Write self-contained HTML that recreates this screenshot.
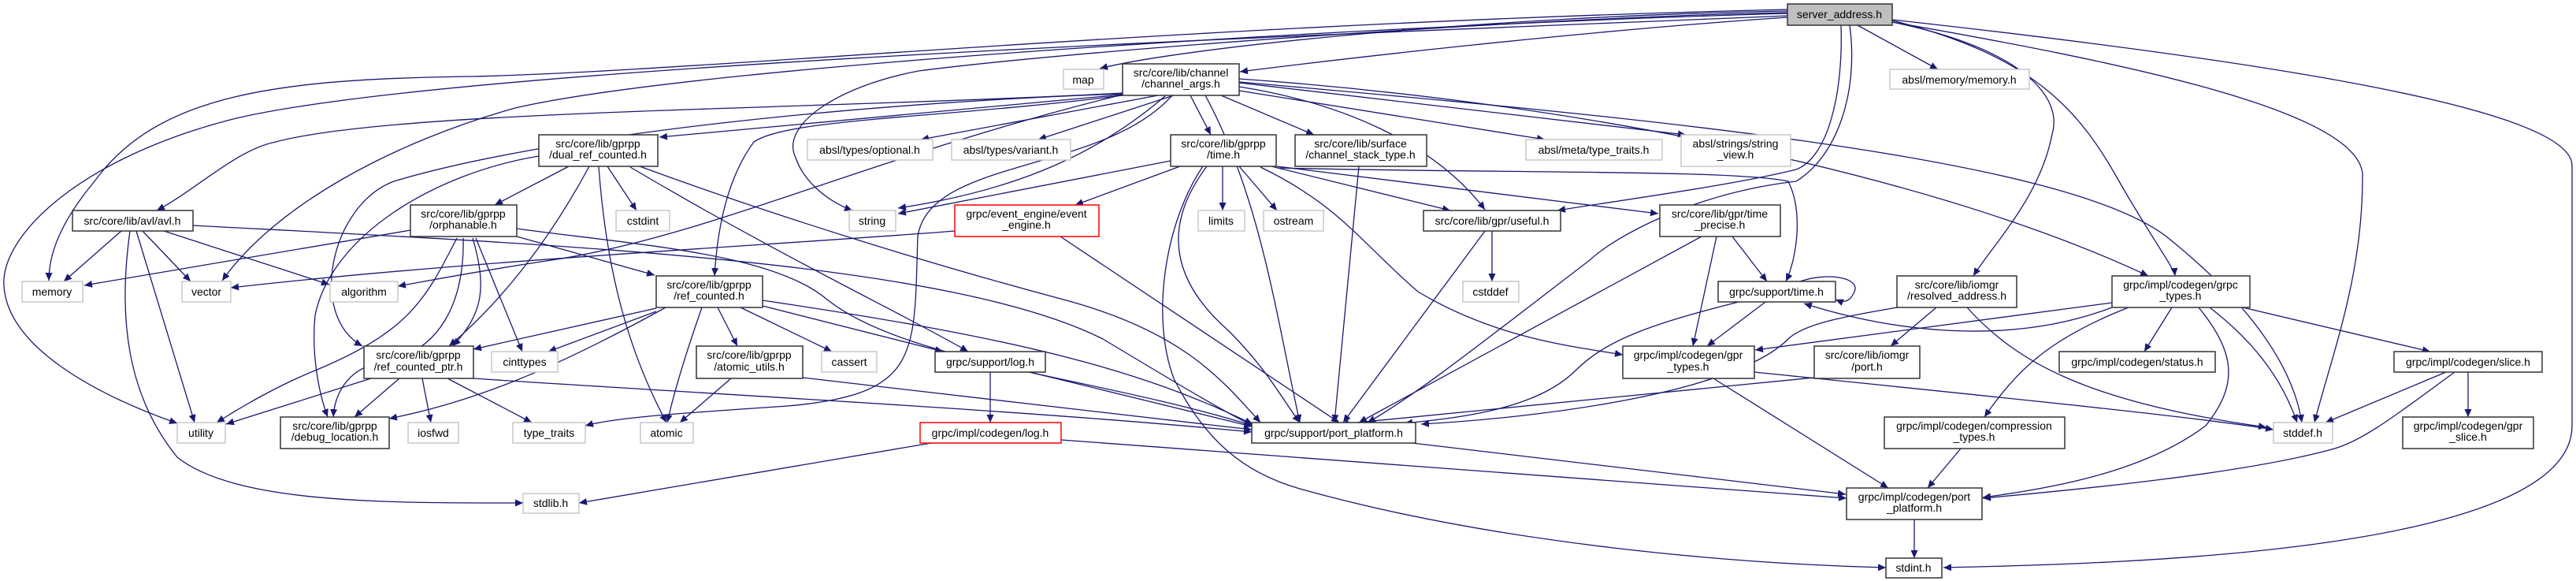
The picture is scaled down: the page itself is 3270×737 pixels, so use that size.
<!DOCTYPE html>
<html><head><meta charset="utf-8"><style>
html,body{margin:0;padding:0;background:#fff;}
svg{display:block;}
text{font-family:"Liberation Sans","DejaVu Sans",sans-serif;font-size:14px;fill:#000;text-anchor:middle;}
.e{fill:none;stroke:#191970;stroke-width:1.3;marker-end:url(#a);}
.n{fill:#fff;stroke:#333;stroke-width:1.5;}
.g{fill:#fff;stroke:#c8c8c8;stroke-width:1.5;}
.r{fill:#fff;stroke:#ff0000;stroke-width:1.5;}
.s{fill:#bfbfbf;stroke:#333;stroke-width:1.5;}
</style></head><body>
<svg width="3270" height="737" viewBox="0 0 3270 737" xmlns="http://www.w3.org/2000/svg">
<defs><marker id="a" markerWidth="11" markerHeight="9" refX="10" refY="4.5" orient="auto" markerUnits="userSpaceOnUse"><path d="M0,0 L10,4.5 L0,9z" fill="#191970"/></marker></defs>
<g>
<!-- S edges -->
<path class="e" d="M2269,14 C1900,20 1500,60 1396,87"/>
<path class="e" d="M2269,22 C2000,40 1700,75 1574,91"/>
<path class="e" d="M2269,12 C1500,30 900,90 600,97 C350,100 200,120 120,230 C70,290 62,330 62,356"/>
<path class="e" d="M2269,17 C1800,30 900,80 654,137 C500,180 350,260 282,356"/>
<path class="e" d="M2269,20 C1800,40 600,80 300,150 C100,200 0,300 5,363 C10,440 120,500 225,537"/>
<path class="e" d="M2269,16 C2000,20 1400,60 1166,90 C1060,110 990,160 1010,200 C1020,230 1050,255 1082,267"/>
<path class="e" d="M2337,32 C2340,120 2320,200 2280,215 C2200,235 2050,255 1977,267"/>
<path class="e" d="M2348,32 C2360,120 2330,200 2280,230 C2150,245 2050,300 2018,330 C1900,420 1800,500 1736,536"/>
<path class="e" d="M2358,32 L2460,88"/>
<path class="e" d="M2402,28 C2560,60 2620,120 2605,170 C2590,250 2530,310 2505,350"/>
<path class="e" d="M2402,26 C2580,70 2640,140 2690,230 C2730,300 2760,340 2761,350"/>
<path class="e" d="M2402,28 C2700,80 2990,140 2999,220 C3000,350 2960,450 2938,536"/>
<path class="e" d="M2402,25 C2900,80 3265,140 3265,210 L3265,540 C3265,700 2700,715 2467,720"/>
<!-- C edges -->
<path class="e" d="M1425,120 L837,174"/>
<path class="e" d="M1470,121 L1169,177"/>
<path class="e" d="M1490,121 L1318,177"/>
<path class="e" d="M1511,121 L1537,171"/>
<path class="e" d="M1480,121 C1400,190 1300,240 1140,264"/>
<path class="e" d="M1573,110 C1700,130 1820,180 1885,266"/>
<path class="e" d="M1550,121 L1668,171"/>
<path class="e" d="M1573,115 L1961,177"/>
<path class="e" d="M1573,105 L2140,171"/>
<path class="e" d="M1573,100 C2000,130 2450,220 2727,350"/>
<path class="e" d="M1573,104 C2100,150 2620,200 2750,300 C2850,380 2910,460 2922,536"/>
<path class="e" d="M1425,118 C1000,140 500,140 350,180 C300,190 250,240 199,267"/>
<path class="e" d="M1425,119 C1100,130 700,170 500,230 C420,260 390,400 460,439"/>
<path class="e" d="M1425,121 C1200,150 1000,150 957,180 C920,230 910,300 907,350"/>
<path class="e" d="M1425,120 C1100,200 900,300 700,330 C600,345 550,355 505,363"/>
<path class="e" d="M1530,121 C1600,250 1620,400 1650,536"/>
<path class="e" d="M1488,121 C1400,220 1180,200 1165,300 C1160,450 1170,500 1000,515 C850,525 780,530 743,540"/>
<!-- dual -->
<path class="e" d="M722,211 L628,260"/>
<path class="e" d="M748,211 C700,300 640,380 570,439"/>
<path class="e" d="M771,211 L808,267"/>
<path class="e" d="M684,198 C550,220 420,300 400,400 C395,450 405,500 416,529"/>
<path class="e" d="M760,211 C770,350 800,450 846,536"/>
<path class="e" d="M800,212 C1000,330 1150,400 1229,446"/>
<path class="e" d="M812,211 C1000,280 1200,340 1350,380 C1500,420 1550,480 1600,536"/>
<!-- avl -->
<path class="e" d="M154,293 L81,357"/>
<path class="e" d="M181,293 L242,357"/>
<path class="e" d="M208,293 L418,361"/>
<path class="e" d="M173,293 L247,536"/>
<path class="e" d="M165,293 C150,400 160,500 225,580 C300,640 500,638 664,638"/>
<path class="e" d="M245,286 C700,310 1200,330 1400,430 C1500,490 1550,520 1590,540"/>
<!-- orph -->
<path class="e" d="M521,292 L107,362"/>
<path class="e" d="M580,302 C540,380 520,420 400,470 C350,490 300,520 275,536"/>
<path class="e" d="M588,302 C590,380 560,450 480,460 C440,470 425,500 423,529"/>
<path class="e" d="M600,302 C620,370 610,400 575,439"/>
<path class="e" d="M604,302 L663,446"/>
<path class="e" d="M656,300 L831,349"/>
<path class="e" d="M656,290 C800,310 980,320 1050,380 C1150,460 1400,480 1590,540"/>
<!-- rcp -->
<path class="e" d="M471,480 L287,538"/>
<path class="e" d="M507,480 L450,529"/>
<path class="e" d="M536,480 L547,536"/>
<path class="e" d="M568,480 L675,536"/>
<path class="e" d="M601,480 C900,500 1300,520 1589,548"/>
<!-- rc -->
<path class="e" d="M833,391 L601,443"/>
<path class="e" d="M833,395 L696,446"/>
<path class="e" d="M845,390 C700,470 600,510 494,531"/>
<path class="e" d="M891,390 C870,450 855,500 847,536"/>
<path class="e" d="M911,390 L936,439"/>
<path class="e" d="M940,390 L1056,446"/>
<path class="e" d="M968,388 L1197,446"/>
<path class="e" d="M968,381 C1300,430 1450,470 1590,538"/>
<path class="e" d="M928,480 L863,536"/>
<path class="e" d="M1019,479 L1589,545"/>
<path class="e" d="M1257,472 L1257,536"/>
<path class="e" d="M1307,472 L1589,541"/>
<path class="e" d="M1182,562 L735,638"/>
<path class="e" d="M1347,558 L2344,632"/>
<!-- time.h -->
<path class="e" d="M1486,204 L1140,271"/>
<path class="e" d="M1498,211 L1365,260"/>
<path class="e" d="M1552,211 L1552,267"/>
<path class="e" d="M1573,211 L1621,267"/>
<path class="e" d="M1610,210 L1841,267"/>
<path class="e" d="M1621,211 L2105,271"/>
<path class="e" d="M1621,213 C1900,220 2200,215 2270,230 C2290,270 2280,330 2267,357"/>
<path class="e" d="M1600,212 C1700,260 1730,310 1800,370 C1900,430 2000,440 2060,450"/>
<path class="e" d="M1532,211 C1480,280 1480,350 1560,420 C1610,470 1630,510 1650,536"/>
<path class="e" d="M1527,211 C1480,280 1460,400 1490,480 C1530,560 1580,600 1650,620 C1900,690 2200,715 2394,720"/>
<path class="e" d="M1212,293 C1000,310 600,330 293,365"/>
<path class="e" d="M1346,300 L1700,536"/>
<path class="e" d="M1894,293 L1894,357"/>
<path class="e" d="M1885,293 L1705,536"/>
<path class="e" d="M2199,300 L2243,357"/>
<path class="e" d="M2179,300 L2149,439"/>
<path class="e" d="M2160,300 L1725,536"/>
<path class="e" d="M2285,357 C2320,345 2362,352 2354,370 C2348,384 2340,384 2330,380"/>
<path class="e" d="M2241,383 L2167,439"/>
<path class="e" d="M2207,383 C2100,410 2040,430 2000,470 C1950,520 1850,530 1783,537"/>
<path class="e" d="M2681,390 C2550,440 2400,420 2290,385"/>
<path class="e" d="M2175,480 L2397,619"/>
<path class="e" d="M2227,472 C2500,500 2800,530 2886,545"/>
<path class="e" d="M1725,211 L1694,536"/>
<path class="e" d="M2303,479 L1702,538"/>
<path class="e" d="M2458,390 L2400,439"/>
<path class="e" d="M2408,390 C2350,400 2290,410 2270,430 C2200,500 1950,530 1804,538"/>
<path class="e" d="M2497,390 C2560,460 2650,510 2877,542"/>
<path class="e" d="M2681,384 L2228,444"/>
<path class="e" d="M2702,390 C2600,430 2560,470 2519,529"/>
<path class="e" d="M2757,390 L2722,446"/>
<path class="e" d="M2791,390 C2840,450 2840,490 2800,540 C2720,600 2600,620 2517,631"/>
<path class="e" d="M2805,390 C2870,440 2900,490 2916,536"/>
<path class="e" d="M2847,390 L3085,446"/>
<path class="e" d="M3105,472 L2952,536"/>
<path class="e" d="M3116,472 C3050,520 3000,560 2960,570 C2850,600 2650,620 2517,632"/>
<path class="e" d="M3133,472 L3133,529"/>
<path class="e" d="M2489,569 L2447,619"/>
<path class="e" d="M2430,659 L2430,708"/>
<path class="e" d="M1793,562 L2343,627"/>
</g>
<g>
<rect class="s" x="2269" y="5" width="133" height="27"/><text x="2335" y="23">server_address.h</text>
<rect class="g" x="1350" y="88" width="51" height="25"/><text x="1375" y="106">map</text>
<rect class="n" x="1425" y="81" width="148" height="40"/><text x="1499" y="97">src/core/lib/channel</text><text x="1499" y="111">/channel_args.h</text>
<rect class="g" x="2399" y="88" width="177" height="25"/><text x="2487" y="106">absl/memory/memory.h</text>
<rect class="n" x="684" y="171" width="151" height="40"/><text x="759" y="187">src/core/lib/gprpp</text><text x="759" y="201">/dual_ref_counted.h</text>
<rect class="g" x="1025" y="177" width="159" height="26"/><text x="1104" y="195">absl/types/optional.h</text>
<rect class="g" x="1208" y="177" width="151" height="26"/><text x="1283" y="195">absl/types/variant.h</text>
<rect class="n" x="1486" y="171" width="134" height="40"/><text x="1553" y="187">src/core/lib/gprpp</text><text x="1553" y="201">/time.h</text>
<rect class="n" x="1644" y="171" width="167" height="40"/><text x="1727" y="187">src/core/lib/surface</text><text x="1727" y="201">/channel_stack_type.h</text>
<rect class="g" x="1937" y="177" width="173" height="26"/><text x="2023" y="195">absl/meta/type_traits.h</text>
<rect class="g" x="2134" y="171" width="139" height="40"/><text x="2203" y="187">absl/strings/string</text><text x="2203" y="201">_view.h</text>
<rect class="n" x="92" y="267" width="153" height="26"/><text x="168" y="285">src/core/lib/avl/avl.h</text>
<rect class="n" x="521" y="260" width="135" height="40"/><text x="588" y="276">src/core/lib/gprpp</text><text x="588" y="290">/orphanable.h</text>
<rect class="g" x="782" y="267" width="68" height="26"/><text x="816" y="285">cstdint</text>
<rect class="g" x="1078" y="267" width="59" height="26"/><text x="1107" y="285">string</text>
<rect class="r" x="1212" y="260" width="183" height="40"/><text x="1303" y="276">grpc/event_engine/event</text><text x="1303" y="290">_engine.h</text>
<rect class="g" x="1521" y="267" width="59" height="26"/><text x="1550" y="285">limits</text>
<rect class="g" x="1604" y="267" width="76" height="26"/><text x="1642" y="285">ostream</text>
<rect class="n" x="1807" y="267" width="174" height="26"/><text x="1894" y="285">src/core/lib/gpr/useful.h</text>
<rect class="n" x="2107" y="260" width="153" height="40"/><text x="2183" y="276">src/core/lib/gpr/time</text><text x="2183" y="290">_precise.h</text>
<rect class="n" x="833" y="350" width="135" height="40"/><text x="900" y="366">src/core/lib/gprpp</text><text x="900" y="380">/ref_counted.h</text>
<rect class="n" x="2408" y="350" width="152" height="40"/><text x="2484" y="366">src/core/lib/iomgr</text><text x="2484" y="380">/resolved_address.h</text>
<rect class="n" x="2681" y="350" width="175" height="40"/><text x="2768" y="366">grpc/impl/codegen/grpc</text><text x="2768" y="380">_types.h</text>
<rect class="g" x="28" y="357" width="77" height="26"/><text x="66" y="375">memory</text>
<rect class="g" x="231" y="357" width="62" height="26"/><text x="262" y="375">vector</text>
<rect class="g" x="419" y="357" width="86" height="26"/><text x="462" y="375">algorithm</text>
<rect class="g" x="1857" y="357" width="71" height="26"/><text x="1892" y="375">cstddef</text>
<rect class="n" x="2181" y="357" width="149" height="26"/><text x="2255" y="375">grpc/support/time.h</text>
<rect class="n" x="462" y="439" width="139" height="41"/><text x="531" y="455">src/core/lib/gprpp</text><text x="531" y="470">/ref_counted_ptr.h</text>
<rect class="n" x="884" y="439" width="135" height="41"/><text x="951" y="455">src/core/lib/gprpp</text><text x="951" y="470">/atomic_utils.h</text>
<rect class="n" x="2060" y="439" width="167" height="41"/><text x="2143" y="455">grpc/impl/codegen/gpr</text><text x="2143" y="470">_types.h</text>
<rect class="n" x="2303" y="439" width="134" height="41"/><text x="2370" y="455">src/core/lib/iomgr</text><text x="2370" y="470">/port.h</text>
<rect class="g" x="624" y="446" width="84" height="26"/><text x="666" y="464">cinttypes</text>
<rect class="g" x="1043" y="446" width="70" height="26"/><text x="1078" y="464">cassert</text>
<rect class="n" x="1187" y="446" width="140" height="26"/><text x="1257" y="464">grpc/support/log.h</text>
<rect class="n" x="2614" y="446" width="198" height="26"/><text x="2713" y="464">grpc/impl/codegen/status.h</text>
<rect class="n" x="3039" y="446" width="188" height="26"/><text x="3133" y="464">grpc/impl/codegen/slice.h</text>
<rect class="n" x="356" y="529" width="138" height="40"/><text x="425" y="545">src/core/lib/gprpp</text><text x="425" y="559">/debug_location.h</text>
<rect class="n" x="2392" y="529" width="229" height="40"/><text x="2506" y="545">grpc/impl/codegen/compression</text><text x="2506" y="559">_types.h</text>
<rect class="n" x="3050" y="529" width="166" height="40"/><text x="3133" y="545">grpc/impl/codegen/gpr</text><text x="3133" y="559">_slice.h</text>
<rect class="g" x="225" y="536" width="61" height="26"/><text x="255" y="554">utility</text>
<rect class="g" x="518" y="536" width="64" height="26"/><text x="550" y="554">iosfwd</text>
<rect class="g" x="651" y="536" width="92" height="26"/><text x="697" y="554">type_traits</text>
<rect class="g" x="813" y="536" width="67" height="26"/><text x="846" y="554">atomic</text>
<rect class="r" x="1168" y="536" width="179" height="26"/><text x="1257" y="554">grpc/impl/codegen/log.h</text>
<rect class="n" x="1589" y="536" width="208" height="26"/><text x="1693" y="554">grpc/support/port_platform.h</text>
<rect class="g" x="2886" y="536" width="75" height="26"/><text x="2923" y="554">stddef.h</text>
<rect class="n" x="2344" y="619" width="172" height="40"/><text x="2430" y="635">grpc/impl/codegen/port</text><text x="2430" y="649">_platform.h</text>
<rect class="g" x="664" y="626" width="71" height="25"/><text x="699" y="643">stdlib.h</text>
<rect class="n" x="2394" y="708" width="71" height="25"/><text x="2429" y="725">stdint.h</text>
</g>
</svg>
</body></html>
